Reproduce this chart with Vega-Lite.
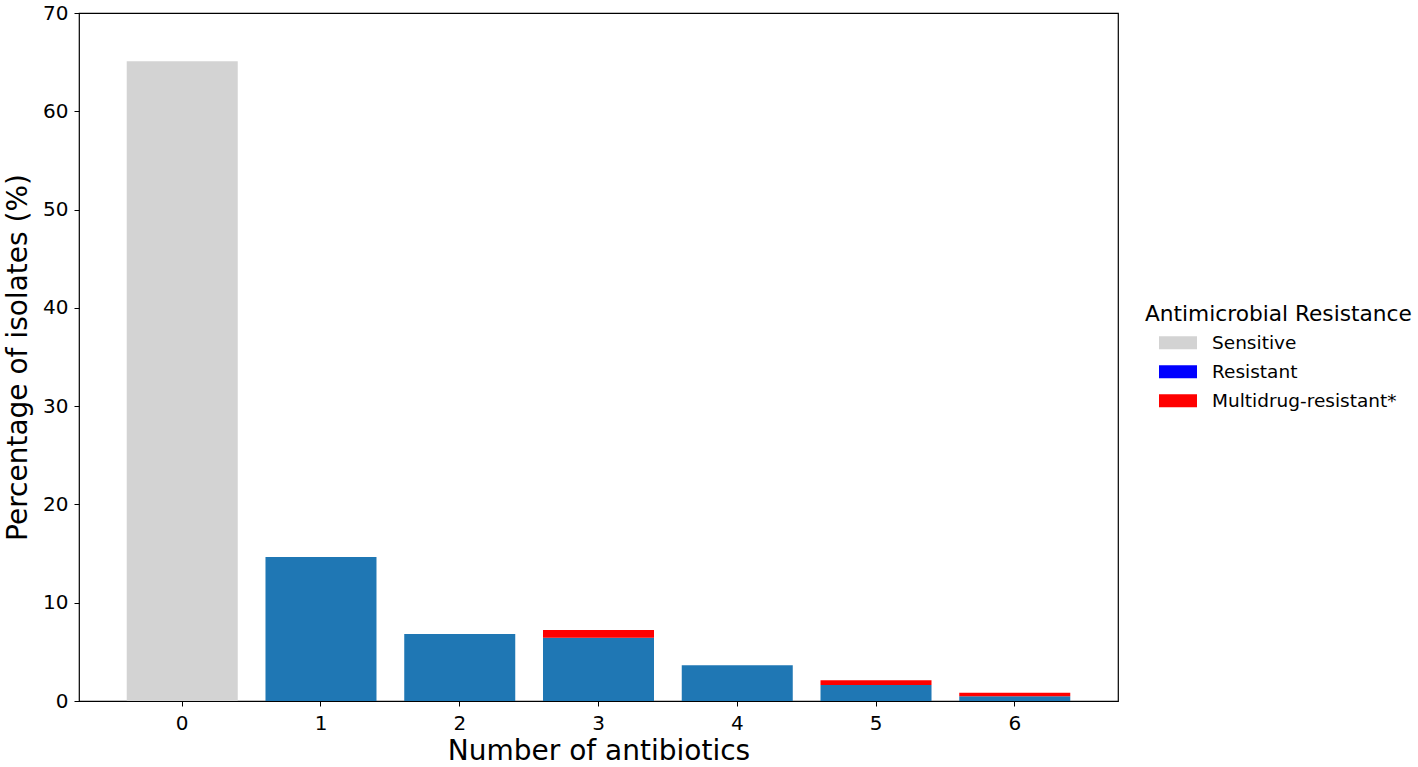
{
  "$schema": "https://vega.github.io/schema/vega-lite/v6.json",
  "description": "Percentage of isolates by number of antibiotics resisted",
  "autosize": "none",
  "padding": {"left": 79, "top": 13, "right": 300, "bottom": 66},
  "width": 1039,
  "height": 688,
  "background": "white",
  "config": {
    "font": "DejaVu Sans",
    "view": {"stroke": "black", "strokeWidth": 1.2}
  },
  "data": {
    "values": [
      {"antibiotics": "0", "category": "Sensitive", "order": 0, "percent": 65.1},
      {"antibiotics": "1", "category": "Resistant bar", "order": 1, "percent": 14.65},
      {"antibiotics": "2", "category": "Resistant bar", "order": 1, "percent": 6.82},
      {"antibiotics": "3", "category": "Resistant bar", "order": 1, "percent": 6.44},
      {"antibiotics": "3", "category": "Multidrug-resistant*", "order": 2, "percent": 0.78},
      {"antibiotics": "4", "category": "Resistant bar", "order": 1, "percent": 3.65},
      {"antibiotics": "5", "category": "Resistant bar", "order": 1, "percent": 1.63},
      {"antibiotics": "5", "category": "Multidrug-resistant*", "order": 2, "percent": 0.47},
      {"antibiotics": "6", "category": "Resistant bar", "order": 1, "percent": 0.48},
      {"antibiotics": "6", "category": "Multidrug-resistant*", "order": 2, "percent": 0.37}
    ]
  },
  "mark": {"type": "bar"},
  "encoding": {
    "x": {
      "field": "antibiotics",
      "type": "ordinal",
      "title": "Number of antibiotics",
      "scale": {"paddingInner": 0.2, "paddingOuter": 0.344},
      "axis": {
        "labelAngle": 0,
        "labelFontSize": 20,
        "labelColor": "black",
        "labelPadding": 7,
        "tickColor": "black",
        "tickSize": 5,
        "domain": false,
        "titleFontSize": 28,
        "titleFontWeight": "normal",
        "titleColor": "black",
        "titlePadding": 4
      }
    },
    "y": {
      "field": "percent",
      "type": "quantitative",
      "title": "Percentage of isolates (%)",
      "stack": "zero",
      "scale": {"domain": [0, 70], "nice": false},
      "axis": {
        "values": [0, 10, 20, 30, 40, 50, 60, 70],
        "grid": false,
        "domain": false,
        "labelFontSize": 20,
        "labelColor": "black",
        "labelPadding": 6,
        "tickColor": "black",
        "tickSize": 5,
        "titleFontSize": 28,
        "titleFontWeight": "normal",
        "titleColor": "black",
        "titlePadding": 10
      }
    },
    "color": {
      "field": "category",
      "type": "nominal",
      "title": "Antimicrobial Resistance",
      "scale": {
        "domain": ["Sensitive", "Resistant", "Multidrug-resistant*", "Resistant bar"],
        "range": ["#d3d3d3", "#0000ff", "#ff0000", "#1f77b4"]
      },
      "legend": {
        "values": ["Sensitive", "Resistant", "Multidrug-resistant*"],
        "orient": "none",
        "legendX": 1066,
        "legendY": 291,
        "padding": 0,
        "titleFontSize": 21.7,
        "titleFontWeight": "normal",
        "titleColor": "black",
        "titleLimit": 0,
        "titlePadding": -2,
        "labelFontSize": 18.5,
        "labelColor": "black",
        "labelLimit": 0,
        "labelOffset": 29,
        "symbolType": "M-0.263,-0.342H1.737V0.342H-0.263Z",
        "symbolSize": 1444,
        "symbolStrokeWidth": 0,
        "rowPadding": -8
      }
    },
    "order": {"field": "order", "type": "quantitative"}
  }
}
